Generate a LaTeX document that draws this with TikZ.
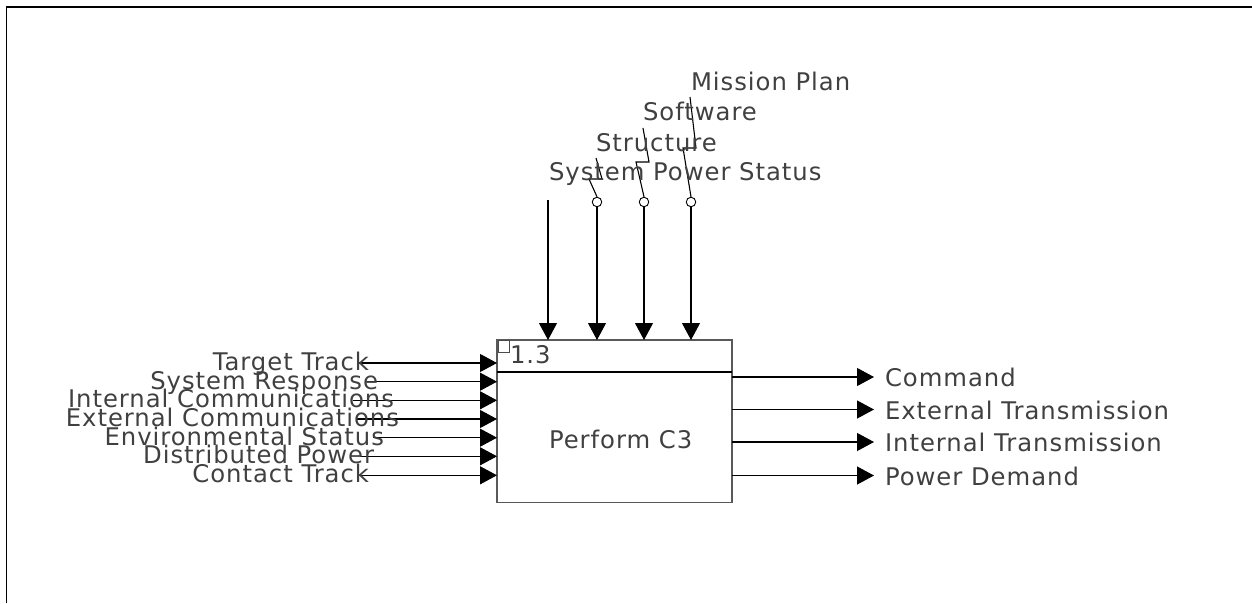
\documentclass[tikz,border=0pt]{standalone}
\usepackage{fontspec}
\setmainfont{DejaVu Sans}[LetterSpace=4]
\usetikzlibrary{arrows.meta}
\begin{document}
\begin{tikzpicture}[x=1pt,y=-1pt,
  arr/.style={-{Triangle[length=17pt,width=18pt]}, line width=1.1pt},
  lbl/.style={inner sep=0pt, outer sep=0pt, text=black!75, font=\fontsize{24.3}{27}\selectfont},
  ring/.style={circle, draw, line width=0.9pt, minimum size=9.5pt, inner sep=0pt},
  zig/.style={line width=1.1pt}]
\useasboundingbox (0,0) rectangle (1252,603);
% frame
\coordinate (fa) at (6.5,603);
\coordinate (fb) at (6.5,7);
\coordinate (fc) at (1252,7);
\draw[line width=1.3pt] (fa) -- (fb) -- (fc);
% box
\node[draw=black!65, line width=1.5pt, minimum width=235pt, minimum height=162.5pt,
      inner sep=0pt, outer sep=0pt, anchor=north west] (box) at (497,340) {};
\draw[line width=1.1pt] (box.west |- 0,372) -- (box.east |- 0,372);
\node[draw=black!70, line width=0.9pt, minimum size=11.5pt, inner sep=0pt, anchor=north west] (sq) at (497.5,340) {};
\node[lbl, anchor=base west] (num) at (510,363.5) {1.3};
\node[lbl, anchor=base west] (title) at (549,448) {Perform C3};
% top controls
\coordinate (c1s) at (548,200);
\draw[arr] (c1s) -- (c1s |- box.north);
\node[ring] (c2) at (597,202) {};
\node[ring] (c3) at (644,202) {};
\node[ring] (c4) at (691,202) {};
\draw[arr] (c2.south) -- (c2.south |- box.north);
\draw[arr] (c3.south) -- (c3.south |- box.north);
\draw[arr] (c4.south) -- (c4.south |- box.north);
\coordinate (t2) at (596,158);
\coordinate (t3) at (643,128);
\coordinate (t4) at (690,97);
\draw[zig] (c2.north) -- (589,179) -- (602,179) -- (t2);
\draw[zig] (c3.north) -- (636,162) -- (649,162) -- (t3);
\draw[zig] (c4.north) -- (683,148) -- (696,148) -- (t4);
\node[lbl, anchor=base west] (l1) at (549,180.7) {System Power Status};
\node[lbl, anchor=base west] (l2) at (596,151.7) {Structure};
\node[lbl, anchor=base west] (l3) at (643,120) {Software};
\node[lbl, anchor=base west] (l4) at (691,90) {Mission Plan};
% inputs
\coordinate (i1) at (357,363);
\coordinate (i2) at (367,381.7);
\coordinate (i3) at (353,400.3);
\coordinate (i4) at (357,419);
\coordinate (i5) at (373,437.7);
\coordinate (i6) at (360,456.3);
\coordinate (i7) at (357,475.3);
\foreach \n in {1,...,7}{\draw[arr] (i\n) -- (box.west |- i\n);}
\node[lbl, anchor=base east] (n1) at (369,370.5) {Target Track};
\node[lbl, anchor=base east] (n2) at (378,389.2) {System Response};
\node[lbl, anchor=base east] (n3) at (394,407.8) {Internal Communications};
\node[lbl, anchor=base east] (n4) at (399,426.5) {External Communications};
\node[lbl, anchor=base east] (n5) at (384,445.2) {Environmental Status};
\node[lbl, anchor=base east] (n6) at (374,463.8) {Distributed Power};
\node[lbl, anchor=base east] (n7) at (369,482.8) {Contact Track};
% outputs
\coordinate (o1) at (874,377);
\coordinate (o2) at (874,409.5);
\coordinate (o3) at (874,442);
\coordinate (o4) at (874,475.5);
\foreach \n in {1,...,4}{\draw[arr] (box.east |- o\n) -- (o\n);}
\node[lbl, anchor=base west] (r1) at (885,386.7) {Command};
\node[lbl, anchor=base west] (r2) at (885,419.2) {External Transmission};
\node[lbl, anchor=base west] (r3) at (885,451.7) {Internal Transmission};
\node[lbl, anchor=base west] (r4) at (885,485.2) {Power Demand};
\end{tikzpicture}
\end{document}
